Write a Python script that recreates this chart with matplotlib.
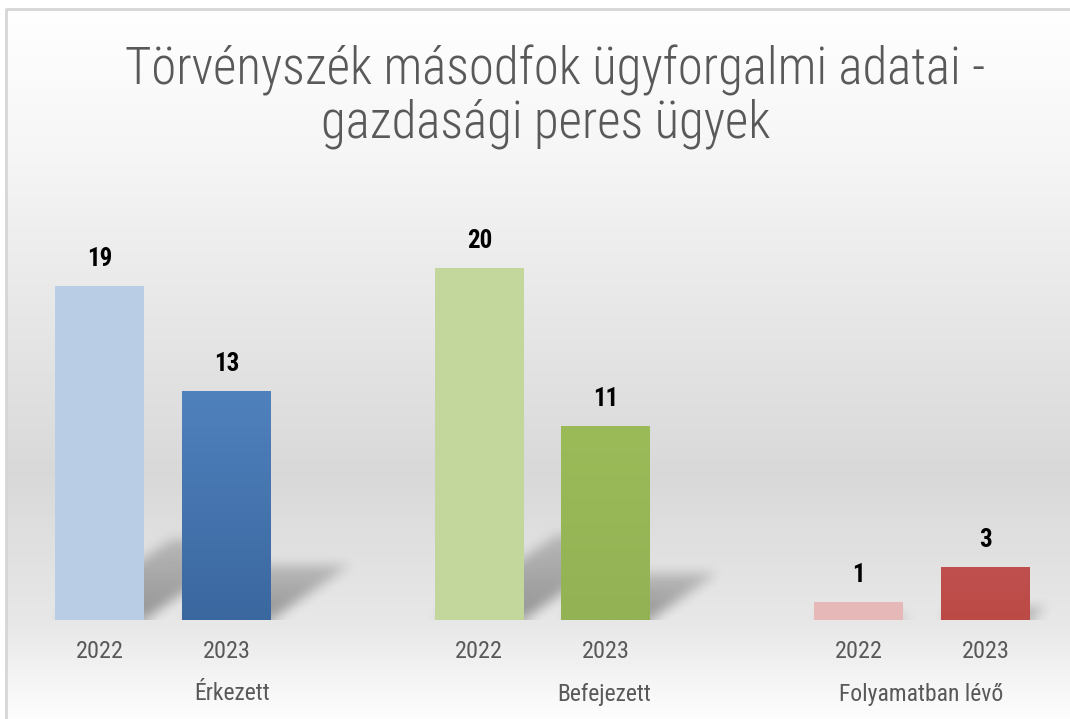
import numpy as np
import matplotlib
matplotlib.use("Agg")
import matplotlib.pyplot as plt
from matplotlib.path import Path
from matplotlib.colors import LinearSegmentedColormap

plt.rcParams['font.family'] = ['Roboto Condensed', 'Liberation Sans Narrow', 'Roboto', 'DejaVu Sans']

# ---- data ----
categories = ["Érkezett", "Befejezett", "Folyamatban lévő"]
years = ["2022", "2023"]
values_2022 = [19, 20, 1]
values_2023 = [13, 11, 3]
title_lines = ["Törvényszék másodfok ügyforgalmi adatai -", "gazdasági peres ügyek"]

light_colors = ["#b9cde5", "#c3d69b", "#e6b9b8"]
dark_top = ["#4f81bd", "#9bbb59", "#c0504d"]
dark_bottom = ["#3b679f", "#93b254", "#bb4a47"]

W, H = 1070, 719
fig = plt.figure(figsize=(W / 100, H / 100), dpi=100)

# ---- background ----
bg = fig.add_axes([0, 0, 1, 1])
rows = np.arange(8, H)
stops_y = [8, 150, 470, 620, 719]
stops_v = [1.0, 0.965, 0.85, 0.91, 1.0]
g = np.interp(rows, stops_y, stops_v)
img = np.repeat(g[:, None], 4, axis=1)
bg.imshow(np.dstack([img, img, img]), extent=[6, W + 5, H + 5, 8], aspect='auto',
          interpolation='bilinear', zorder=0)
bg.plot([6, W + 5], [8.5, 8.5], color="#d6d6d6", lw=2, zorder=1, solid_capstyle='butt')
bg.plot([6, 6], [8, H + 5], color="#d6d6d6", lw=2, zorder=1, solid_capstyle='butt')
bg.set_xlim(0, W)
bg.set_ylim(H, 0)
bg.axis('off')

# ---- main axes ----
px_per_unit = 17.6
group_px = [163.25, 542.0, 922.0]
spacing = 379.4
base_px = 620
ax_h_px = 440
ax = fig.add_axes([6 / W, (H - base_px) / H, (W - 6) / W, ax_h_px / H])
ax.set_facecolor('none')
x0 = (6 - group_px[0]) / spacing
x1 = (W - group_px[0]) / spacing
ymax = ax_h_px / px_per_unit
ax.axis('off')

off = 63.3 / spacing
bw = 89 / spacing
xc = np.arange(len(categories))
x22 = xc - off
x23 = xc + off
cat_label_shift = np.array([69, 62, -1]) / spacing  # label placement as in the original

# ---- shadows (raster, blurred) ----
nx, ny = W - 6, ax_h_px
xs = np.linspace(x0, x1, nx)
ys = np.linspace(0, ymax, ny)
XX, YY = np.meshgrid(xs, ys)
pts = np.column_stack([XX.ravel(), YY.ravel()])
alpha = np.zeros(XX.shape)
k = 0.24
sx = 0.016
for xs_, vals in ((x22, values_2022), (x23, values_2023)):
    for c, h in zip(xs_, vals):
        th = k * h
        poly = Path([(c - bw / 2, 0), (c + bw / 2, 0),
                     (c + bw / 2 + sx * h, th), (c - bw / 2 + sx * h, th),
                     (c - bw / 2, 0)])
        m = poly.contains_points(pts).reshape(XX.shape).astype(float)
        fade = np.clip(1 - 0.5 * YY / max(th, 1e-6), 0, 1)
        alpha = np.maximum(alpha, m * fade)


def blur1d(a, r, axis):
    a = np.moveaxis(a, axis, -1)
    p = np.pad(a, [(0, 0)] * (a.ndim - 1) + [(r + 1, r)], mode='edge')
    c = np.cumsum(p, axis=-1)
    out = (c[..., 2 * r + 1:] - c[..., :-2 * r - 1]) / (2 * r + 1)
    return np.moveaxis(out, -1, axis)


for _ in range(3):
    alpha = blur1d(alpha, 5, 0)
    alpha = blur1d(alpha, 5, 1)
alpha = alpha * 0.36
rgba = np.zeros(XX.shape + (4,))
rgba[..., 3] = alpha
ax.imshow(rgba, extent=[x0, x1, 0, ymax], origin='lower',
          aspect='auto', zorder=1, interpolation='bilinear')

# ---- bars ----
bars22 = ax.bar(x22, values_2022, width=bw, color=light_colors, zorder=2, linewidth=0)
bars23 = ax.bar(x23, values_2023, width=bw, color=dark_top, zorder=2, linewidth=0)
for b, ct, cb in zip(bars23, dark_top, dark_bottom):
    cmap = LinearSegmentedColormap.from_list("g", [cb, ct])
    grad = np.linspace(0, 1, 100)[:, None]
    bx = b.get_x()
    im = ax.imshow(grad, cmap=cmap, extent=[bx, bx + b.get_width(), 0, b.get_height()],
                   origin='lower', aspect='auto', zorder=3)
    im.set_clip_path(b)

ax.set_xlim(x0, x1)
ax.set_ylim(0, ymax)

# ---- labels ----
lab_off = 27 / px_per_unit
for xs_, vals, yr in ((x22, values_2022, years[0]), (x23, values_2023, years[1])):
    for c, v in zip(xs_, vals):
        ax.text(c, v + lab_off, str(v), ha='center', va='center', fontsize=18,
                fontweight='bold', color='black', zorder=5)
        ax.text(c, -31 / px_per_unit, yr, ha='center', va='center', fontsize=17.5,
                color='#595959', clip_on=False, zorder=5)
for c, name in zip(xc + cat_label_shift, categories):
    ax.text(c, -74 / px_per_unit, name, ha='center', va='center', fontsize=17,
            color='#595959', clip_on=False, zorder=5)

fig.text(555 / W, 1 - 70 / H, title_lines[0], ha='center', va='center',
         fontsize=36.5, color='#595959', fontweight='light')
fig.text(546 / W, 1 - 124 / H, title_lines[1], ha='center', va='center',
         fontsize=36.5, color='#595959', fontweight='light')

fig.savefig("out.png", dpi=100)
